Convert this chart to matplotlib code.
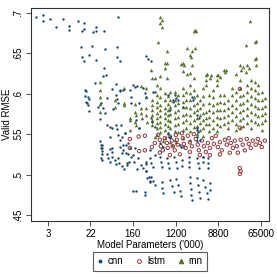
import matplotlib
matplotlib.use("Agg")
from matplotlib import pyplot as plt
from matplotlib.lines import Line2D

plt.rcParams['font.family'] = ['Liberation Sans', 'DejaVu Sans']

# model parameters ('000) and validation RMSE
cnn_params = [1.72, 2.4, 2.4, 3.3, 4.4, 6.2, 8.2, 8.0, 12, 16, 16, 15, 25, 29, 29, 42, 81,
              14, 24, 43, 78, 14.5, 16, 21, 28, 78, 87, 42, 39, 45, 300, 330, 380,
              27, 18, 20, 21, 18.5, 20, 21, 31, 36, 48, 60, 73, 73, 77, 80, 87, 102, 62, 40, 43,
              34, 47, 55, 59, 73, 77, 55, 80, 87, 98, 110, 35, 37, 37, 59, 115, 128, 139,
              139, 150, 150, 197, 260, 185, 210, 17, 17, 17.5,
              87, 160, 176, 281, 290, 410, 449, 210, 1140, 1200, 1660, 2540, 2650, 1040, 906,
              390, 92, 110, 210, 820, 906, 567, 650, 176, 100, 1446, 95, 160,
              380, 449, 820, 1040, 1310, 3200, 3500, 3200, 3350, 3690, 1520, 906,
              3200, 3200, 3200, 4240,
              36, 36, 37, 38, 36, 38, 47, 50, 56, 60, 68, 72, 80, 85, 95, 105, 120, 135,
              55, 60, 87, 100, 115, 130, 145, 170, 200, 230, 260, 290, 300,
              290, 300, 340, 355, 315, 355, 160, 185, 281, 281, 195, 120,
              355, 370, 567, 595, 620, 790, 820, 860, 1090, 1200, 1255, 1590, 1590,
              2200, 2200, 2200, 3200, 3350, 3520, 4240, 4240, 5370, 5370, 5370, 355, 449, 420,
              370, 420, 449, 620, 620, 650, 906, 990, 1090, 1200, 1310, 1446, 1520,
              2311, 2311, 2430, 2430, 2540, 3200, 3350, 3520, 3690,
              4240, 4665, 5130, 5370, 5895, 5895]
cnn_rmse = [.695, .697, .690, .693, .682, .693, .684, .679, .690, .687, .680, .678, .676, .683, .677, .678, .695,
            .658, .659, .655, .658, .646, .641, .648, .642, .646, .641, .632, .622, .623, .647, .643, .640,
            .613, .603, .596, .594, .588, .586, .579, .584, .589, .595, .606, .612, .599, .593, .589, .603, .605, .581, .582, .576,
            .569, .561, .559, .557, .561, .556, .547, .549, .543, .546, .551, .541, .537, .533, .533, .536, .539, .533,
            .605, .596, .588, .609, .607, .568, .557, .605, .597, .590,
            .605, .611, .608, .601, .596, .602, .602, .589, .599, .595, .584, .596, .592, .590, .580,
            .565, .561, .551, .558, .551, .547, .539, .534, .533, .537, .537, .527, .524,
            .570, .559, .599, .592, .592, .574, .570, .558, .553, .543, .534, .547,
            .555, .547, .541, .522,
            .537, .533, .529, .525, .521, .518, .526, .520, .515, .522, .518, .513, .521, .514, .510, .507, .512, .516,
            .532, .528, .534, .530, .527, .525, .522, .515, .520, .512, .508, .516, .504,
            .513, .505, .497, .492, .496, .491, .480, .480, .478, .475, .507, .514,
            .520, .514, .522, .516, .509, .521, .514, .508, .522, .516, .508, .518, .511,
            .522, .516, .509, .521, .514, .508, .522, .516, .521, .514, .508, .530, .524, .509,
            .497, .492, .487, .491, .483, .477, .493, .486, .478, .495, .487, .480, .473,
            .497, .490, .482, .475, .469, .496, .487, .478, .471,
            .493, .485, .477, .470, .490, .481]

lstm_params = [139, 210, 281, 139, 215, 281, 390, 449,
               525, 567, 595, 650, 716, 790, 820, 906, 990, 1040, 1140, 1200, 1255, 1310,
               1590, 1660, 1740, 1900, 2100, 2311, 2540, 2790, 3060, 3350, 3520,
               4050, 4450, 4900, 5370, 5895, 6470, 7100, 7800, 8570, 9400, 10300,
               11900, 13000, 14300, 15700, 17300, 19000, 20800, 21800, 24000, 24000, 25000,
               27500, 30300, 33200, 36500, 40000, 44000, 50500, 55700, 61300, 67400, 77500,
               24000, 25000, 24000,
               567, 906, 1446, 2311, 3690, 5895, 9400, 15000]
lstm_rmse = [.544, .547, .548, .533, .529, .530, .534, .539,
             .549, .543, .535, .530, .545, .539, .533, .547, .542, .535, .530, .549, .543, .537,
             .551, .545, .538, .533, .548, .540, .535, .550, .544, .537, .530,
             .542, .535, .528, .539, .533, .545, .538, .548, .534, .540, .530,
             .543, .537, .545, .539, .533, .542, .535, .527, .606, .558, .543,
             .537, .530, .544, .538, .533, .542, .537, .544, .539, .534, .542,
             .508, .504, .501,
             .527, .524, .525, .528, .524, .524, .525, .527]

rnn_params = [560, 640, 560, 640, 2920, 3100, 2750, 38400, 520, 800, 2050, 2600, 2920, 2300, 2450,
              32500, 48500, 52000, 48500, 52000, 50500, 800, 716, 1550, 1740, 2600, 1700, 2050,
              5200, 6100, 5900, 8570, 9400, 11900, 12800, 24000, 25000, 34000, 37000, 32500, 20000,
              370, 449, 560, 780,
              35, 35, 35, 35, 35, 107, 107, 107, 137, 139, 139, 176, 176, 185, 176, 185,
              238, 238, 238, 250, 290, 290, 290, 300, 315, 69, 69,
              390, 390, 390, 390, 390, 390, 390,
              494, 494, 494, 494, 494, 494, 494, 494, 494,
              567, 567, 567, 567, 567, 567, 567, 567,
              716, 716, 716, 716, 716, 716, 716, 716, 716,
              820, 820, 820, 820, 820, 820, 820,
              906, 906, 906, 906, 906, 906, 906, 906,
              1140, 1140, 1140, 1140, 1140, 1140, 1140, 1140,
              1310, 1310, 1310, 1310, 1310, 1310,
              1660, 1660, 1660, 1660, 1660, 1660, 1660, 1660, 1660, 1660,
              1900, 1900, 1900, 1900, 1900, 1900,
              2311, 2311, 2311, 2311, 2311, 2311, 2311, 2311, 2311,
              2750, 2750, 2750, 2750, 2750, 2750, 2750,
              3200, 3200, 3200, 3200, 3200, 3200,
              3690, 3690, 3690, 3690, 3690,
              4240, 4240, 4240, 4240, 4240, 4240, 4240,
              4900, 4900, 4900, 4900, 4900, 4900,
              5600, 5600, 5600, 5600, 5600, 5600,
              6780, 6780, 6780, 6780, 6780, 6780,
              8200, 8200, 8200, 8200, 8200, 8200, 8200, 8200,
              9400, 9400, 9400, 9400, 9400,
              11300, 11300, 11300, 11300, 11300, 11300,
              13600, 13600, 13600, 13600, 13600,
              16500, 16500, 16500, 16500, 16500,
              20000, 20000, 20000, 20000, 20000, 20000,
              24000, 24000, 24000, 24000, 24000, 24000, 24000,
              27500, 27500, 27500, 27500, 27500, 27500,
              33200, 33200, 33200, 33200, 33200, 33200,
              40000, 40000, 40000, 40000, 40000, 40000, 40000,
              48500, 48500, 48500, 48500, 48500, 48500,
              55700, 55700, 55700, 55700, 55700, 55700,
              67400, 67400, 67400, 67400, 67400, 67400,
              77500, 77500, 77500, 77500,
              449, 650, 990, 1200]
rnn_rmse = [.695, .691, .687, .682, .679, .677, .678, .690, .664, .653, .656, .653, .656, .648, .646,
            .660, .664, .665, .643, .644, .635, .638, .632, .637, .636, .636, .628, .625,
            .625, .623, .620, .623, .621, .627, .629, .635, .629, .635, .632, .627, .625,
            .629, .620, .622, .620,
            .615, .605, .596, .587, .577, .607, .589, .586, .570, .567, .555, .587, .578, .574, .565, .561,
            .609, .582, .576, .570, .607, .596, .582, .574, .565, .592, .584,
            .620, .592, .586, .580, .574, .568, .561,
            .611, .599, .590, .583, .576, .570, .564, .558, .549,
            .607, .596, .586, .580, .573, .565, .559, .553,
            .638, .601, .592, .582, .576, .570, .563, .555, .545,
            .597, .587, .580, .574, .568, .560, .551,
            .602, .592, .583, .575, .566, .558, .548, .540,
            .602, .592, .586, .577, .570, .561, .554, .543,
            .599, .589, .580, .571, .563, .553,
            .638, .607, .599, .590, .583, .574, .565, .555, .545, .535,
            .602, .592, .583, .575, .568, .558,
            .626, .611, .601, .592, .582, .574, .564, .554, .543,
            .620, .605, .596, .586, .577, .568, .559,
            .599, .589, .580, .570, .560, .550,
            .592, .582, .574, .564, .555,
            .607, .597, .587, .576, .568, .558, .548,
            .623, .617, .611, .577, .570, .563,
            .599, .589, .580, .571, .563, .554,
            .605, .596, .586, .577, .568, .558,
            .623, .617, .611, .589, .580, .571, .563, .554,
            .599, .590, .580, .570, .560,
            .629, .599, .589, .580, .571, .563,
            .592, .582, .574, .565, .558,
            .607, .599, .586, .577, .568,
            .602, .592, .582, .572, .563, .555,
            .617, .607, .597, .587, .577, .568, .558,
            .633, .599, .589, .580, .570, .560,
            .611, .602, .592, .582, .574, .564,
            .617, .607, .597, .587, .577, .568, .558,
            .615, .605, .595, .585, .575, .565,
            .611, .601, .592, .582, .572, .563,
            .602, .592, .582, .574, .564, .555,
            .595, .585, .576, .568,
            .546, .541, .537, .540]

xticks = [3, 22, 160, 1200, 8800, 65000]
yticks = [.45, .5, .55, .6, .65, .7]
ytick_labels = ['.45', '.5', '.55', '.6', '.65', '.7']

navy = '#1a476f'
maroon = '#90353b'
green = '#55752f'

fig = plt.figure(figsize=(2.77, 2.77), dpi=100)
ax = fig.add_axes([0.112, 0.202, 0.859, 0.769])

ax.scatter(rnn_params, rnn_rmse, marker='^', s=6.5, color=green, linewidths=0, zorder=2)
ax.scatter(cnn_params, cnn_rmse, marker='o', s=3, color=navy, linewidths=0, zorder=3)
ax.scatter(lstm_params, lstm_rmse, marker='o', s=6, facecolors='none', edgecolors=maroon,
           linewidths=0.7, zorder=2)

ax.set_xscale('log')
ax.set_xlim(1.36, 94000)
ax.set_ylim(.4425, .706)
ax.set_xticks(xticks)
ax.set_xticklabels([str(t) for t in xticks])
ax.minorticks_off()
ax.set_yticks(yticks)
ax.set_yticklabels(ytick_labels, rotation=90, va='center')
ax.tick_params(axis='both', labelsize=7, length=3.5, width=0.6, color='#333333', pad=2)
for s in ax.spines.values():
    s.set_linewidth(0.8)
    s.set_color('#333333')

ax.set_xlabel("Model Parameters ('000)", fontsize=7, labelpad=1)
ax.set_ylabel('Valid RMSE', fontsize=7, labelpad=1)

handles = [
    Line2D([], [], marker='o', ls='', ms=1.8, color=navy, label='cnn'),
    Line2D([], [], marker='o', ls='', ms=2.8, mfc='none', mec=maroon, mew=0.7, label='lstm'),
    Line2D([], [], marker='^', ls='', ms=3.0, color=green, label='rnn'),
]
leg = fig.legend(handles=handles, loc='center', bbox_to_anchor=(0.541, 0.057), ncol=3,
                 fontsize=7, frameon=True, fancybox=False, edgecolor='#333333',
                 handlelength=0.6, handletextpad=0.5, columnspacing=1.3, borderpad=0.45)
leg.get_frame().set_linewidth(0.8)

fig.savefig('out.png', dpi=100)
